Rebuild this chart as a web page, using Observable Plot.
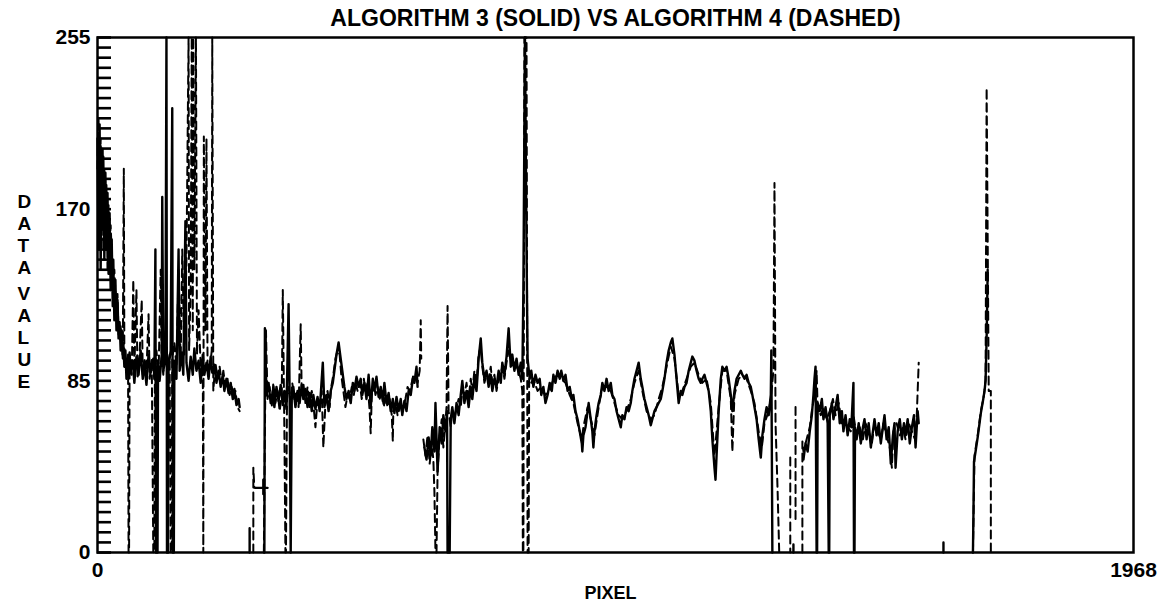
<!DOCTYPE html>
<html>
<head>
<meta charset="utf-8">
<script src="https://cdn.jsdelivr.net/npm/d3@7"></script>
<script src="https://cdn.jsdelivr.net/npm/@observablehq/plot@0.6"></script>
<style>
  html, body { margin: 0; padding: 0; background: #fff; }
  #chart svg { font-family: "Liberation Sans", Arial, sans-serif; }
</style>
</head>
<body>
<div id="chart"></div>
<script>
const title = "ALGORITHM 3 (SOLID) VS ALGORITHM 4 (DASHED)";
const xLabel = "PIXEL";
const yLabelTop = "D\nA\nT\nA";
const yLabelBottom = "V\nA\nL\nU\nE";
const yTickLabels = [0, 85, 170, 255];
const xTickLabels = [0, 1968];
const yMinorTicks = d3.range(0, 256, 5);

// Algorithm 3 (solid): pixel / data value, null = gap
const solidPixel = [
0,2,4,6,8,10,11,13,15,17,19,21,23,25,27,29,30,32,34,36,38,40,42,44,46,48,49,51,53,55,57,59,61,63,67,70,74,78,82,86,89,93,97,101,106,108,110,111,114,115,118,122,123,125,129,131,132,134,135,139,142,143,145,146,150,154,156,160,163,167,169,173,177,181,184,188,192,196,200,203,207,211,215,218,222,226,230,234,238,241,245,249,253,257,260,264,268,270,null,
289,289,null,300,323,null,315,315,null,
317,318,321,325,329,333,336,340,344,348,352,355,359,363,365,367,369,372,376,380,384,388,391,395,399,403,407,410,414,418,422,428,431,435,439,443,447,450,454,458,462,465,469,473,477,481,485,488,492,496,500,503,507,511,515,519,523,526,530,534,538,542,545,549,553,557,561,564,568,572,576,579,583,587,591,595,599,602,606,608,null,
621,625,629,633,636,640,642,646,650,654,657,661,664,665,669,671,674,678,682,686,690,693,697,701,705,709,712,716,720,724,728,731,735,739,743,747,750,754,758,762,766,769,773,777,781,785,788,792,796,800,804,807,809,812,815,817,821,824,828,832,836,840,843,847,851,855,859,863,866,870,874,878,881,885,889,893,897,901,904,908,912,916,920,921,923,927,931,933,937,940,942,944,948,952,956,959,963,967,971,975,978,982,986,990,994,997,1001,1005,1009,1013,1016,1020,1024,1028,1032,1035,1039,1043,1047,1051,1054,1058,1062,1066,1070,1073,1077,1081,1085,1089,1092,1096,1100,1104,1108,1111,1115,1119,1123,1127,1130,1134,1138,1142,1146,1149,1153,1157,1161,1165,1168,1172,1174,1176,1180,1184,1187,1191,1195,1199,1203,1206,1210,1214,1218,1222,1225,1229,1233,1237,1241,1244,1248,1252,1256,1260,1263,1267,1271,1275,1279,1280,1282,null,
1322,1322,null,
1341,1345,1349,1353,1357,1360,1362,1364,1366,1367,1368,1372,1376,1379,1383,1387,1389,1390,1391,1395,1398,1402,1406,1410,1414,1417,1421,1425,1429,1432,1436,1437,1438,1439,1442,1446,1450,1454,1457,1461,1465,1469,1473,1476,1480,1484,1488,1492,1495,1499,1503,1507,1511,1514,1516,1520,1524,1528,1532,1535,1539,1543,1547,1551,1554,1558,1560,null,
1607,1607,null,
1663,1664,1665,1668,1672,1676,1678,1682,1685,1687,1689,1691
];
const solidValue = [
205,150,212,140,200,160,196,145,188,150,178,138,168,130,155,122,145,115,135,110,125,106,114,100,110,98,104,92,100,86,96,88,99,90,95,84,97,88,100,86,94,83,98,89,96,86,150,0,0,94,85,98,176,90,96,255,0,0,92,100,220,0,0,95,86,150,90,99,88,164,94,85,97,88,101,90,95,84,98,88,94,86,97,89,93,84,90,82,88,80,86,79,84,76,81,73,76,72,null,
0,12,null,32,32,null,29,36,null,
0,111,78,84,74,80,72,82,75,83,73,80,71,123,78,0,76,82,72,80,74,83,76,81,72,79,70,78,71,77,70,94,72,78,70,80,84,90,98,104,96,90,82,76,80,74,84,80,87,82,86,78,84,76,88,72,86,80,87,77,82,75,84,74,79,70,76,69,77,70,76,68,75,70,80,78,86,84,92,82,null,
52,46,57,48,62,50,74,40,62,54,68,60,70,0,0,66,72,64,74,68,78,85,74,80,72,82,76,86,80,96,106,94,86,90,82,88,80,86,82,90,84,94,88,97,111,92,98,90,96,88,94,86,130,255,150,96,86,90,82,88,84,86,78,82,74,78,84,80,88,84,90,86,90,85,88,80,82,76,78,70,66,60,54,50,58,62,70,74,66,60,52,60,68,74,78,84,80,86,80,84,78,76,70,66,62,68,66,72,70,74,80,86,90,94,86,82,76,72,68,63,66,70,72,74,76,80,86,94,100,104,106,98,86,74,80,78,82,84,90,94,97,95,90,86,84,86,88,84,80,70,56,42,36,48,70,86,92,90,92,86,78,70,80,86,88,90,88,86,88,84,82,78,72,66,56,47,58,66,72,68,78,100,0,null,
0,4,null,
46,54,50,60,68,78,86,92,0,0,74,70,76,66,72,64,0,0,68,74,66,72,78,64,70,60,68,58,66,62,84,0,0,62,56,64,54,62,66,56,64,52,60,66,58,64,54,62,68,56,62,44,58,64,42,60,66,56,64,58,66,54,62,68,52,70,64,null,
0,5,null,
0,20,45,50,57,65,69,75,80,85,106,140
];

// Algorithm 4 (dashed): pixel / data value, null = gap
const dashedPixel = [
0,2,4,6,8,10,11,13,15,17,19,21,23,25,29,32,36,38,40,44,48,50,51,55,58,59,60,61,65,68,70,74,76,80,84,86,89,93,97,99,103,106,108,109,112,116,120,122,125,129,133,137,139,141,142,146,150,154,158,161,165,169,173,174,177,179,181,182,184,187,189,192,196,200,201,202,205,207,209,213,217,218,220,224,228,232,236,239,243,247,251,255,259,262,266,270,null,
296,296,298,null,
316,318,320,323,327,331,334,338,342,346,350,352,355,357,358,360,363,367,370,374,378,382,386,388,391,395,399,403,407,410,414,418,422,426,429,433,437,441,444,448,452,456,460,463,467,471,475,479,483,487,490,494,498,502,506,509,513,517,519,521,525,528,532,536,540,544,547,551,555,559,561,562,566,570,574,578,581,585,589,593,597,600,604,608,612,614,615,null,
619,623,627,631,635,638,640,642,644,646,650,654,657,661,663,665,667,671,674,678,682,686,690,693,697,701,705,709,712,716,720,724,728,731,735,739,743,747,750,754,758,762,766,769,773,777,781,785,788,792,796,800,804,807,808,809,811,815,817,819,820,824,828,836,843,851,859,866,874,881,889,897,904,912,920,923,931,939,944,952,959,967,975,982,990,997,1005,1013,1020,1028,1035,1043,1051,1058,1066,1073,1081,1089,1096,1104,1111,1119,1127,1134,1142,1149,1157,1165,1172,1180,1187,1195,1203,1206,1210,1218,1225,1233,1241,1248,1256,1262,1267,1275,1279,1284,1286,1288,1292,1295,null,
1316,1316,null,1326,1326,null,
1339,1339,1341,1347,1353,1358,1364,1366,1368,1374,1379,1385,1391,1397,1402,1408,1414,1419,1425,1431,1436,1442,1448,1454,1459,1465,1471,1476,1482,1488,1493,1499,1505,1509,1512,1518,1524,1530,1535,1541,1547,1553,1556,1560,null,
1663,1666,1672,1678,1684,1687,1689,1693,1697,1697
];
const dashedValue = [
190,215,160,205,175,200,150,190,160,182,140,172,145,162,135,140,118,128,108,112,96,190,100,92,98,0,0,95,88,135,90,130,86,98,125,88,96,90,118,86,96,0,0,92,100,88,140,96,88,110,92,98,0,0,96,104,92,140,94,150,98,145,255,100,130,255,110,255,140,255,98,120,92,96,0,206,110,205,94,90,100,255,80,94,86,92,84,90,82,86,78,82,76,80,72,70,null,
0,42,32,null,
0,60,110,76,82,72,84,74,80,70,78,130,60,0,0,76,82,74,84,76,80,72,113,78,84,74,82,72,80,74,62,76,72,80,52,74,80,72,82,88,96,100,98,88,80,72,78,76,82,78,84,80,84,76,86,80,84,70,59,78,84,78,82,76,80,72,78,72,76,68,55,72,74,68,74,70,72,76,82,80,84,88,86,84,90,115,96,null,
56,48,58,44,54,46,30,0,0,40,58,66,52,64,72,122,70,62,70,66,72,76,72,80,78,84,76,86,80,90,84,98,102,92,84,88,86,92,84,88,80,86,88,92,86,94,100,96,92,94,92,90,86,80,0,0,255,255,0,0,86,84,86,80,82,78,80,86,88,86,84,78,74,64,56,62,72,64,58,72,82,82,80,74,68,66,70,76,84,90,80,70,66,68,76,82,92,102,96,78,80,86,92,94,88,84,86,74,48,72,90,90,76,50,78,86,88,86,80,74,60,52,64,70,76,90,183,64,30,0,null,
47,0,null,72,15,null,
0,55,50,56,62,72,80,90,72,68,72,66,70,76,68,74,64,66,62,60,68,58,62,56,64,60,54,64,60,56,64,58,52,42,60,64,58,62,56,64,60,56,66,94,null,
0,48,58,70,78,86,230,80,80,0
];

const toRows = (px, val) => px.map((x, i) => ({
  x: x == null ? NaN : x,
  y: val[i] == null ? NaN : val[i]
}));
const solid = toRows(solidPixel, solidValue);
const dashed = toRows(dashedPixel, dashedValue);

const chart = Plot.plot({
  width: 1167,
  height: 609,
  marginLeft: 97,
  marginRight: 34,
  marginTop: 37,
  marginBottom: 57,
  style: { fontFamily: '"Liberation Sans", Arial, sans-serif', background: "#fff", color: "#000" },
  x: { domain: [0, 1968] },
  y: { domain: [0, 255] },
  marks: [
    Plot.axisY(yMinorTicks, { anchor: "left", tickSize: 14, dx: 14, tickFormat: () => "", strokeWidth: 2.6, label: null }),
    Plot.axisY(yTickLabels, { anchor: "left", tickSize: 0, tickPadding: 7, fontSize: 21, fontWeight: "bold", tickFormat: d => String(d), label: null }),
    Plot.axisX(xTickLabels, { anchor: "bottom", tickSize: 0, tickPadding: 10, fontSize: 21, fontWeight: "bold", tickFormat: d => String(d), label: null }),
    Plot.line(dashed, { x: "x", y: "y", stroke: "#000", strokeWidth: 2, strokeDasharray: "8,5", curve: "linear" }),
    Plot.line(solid, { x: "x", y: "y", stroke: "#000", strokeWidth: 2.4, curve: "linear" }),
    Plot.frame({ stroke: "#000", strokeWidth: 2.5 }),
    Plot.text([title], { frameAnchor: "top", lineAnchor: "middle", dy: -19, fontSize: 23, fontWeight: "bold" }),
    Plot.text([xLabel], { frameAnchor: "bottom", lineAnchor: "middle", dy: 41, dx: -5, fontSize: 18, fontWeight: "bold" }),
    Plot.text([yLabelTop], { frameAnchor: "left", dx: -80, dy: -61, fontSize: 19, fontWeight: "bold", lineHeight: 1.16 }),
    Plot.text([yLabelBottom], { frameAnchor: "left", dx: -80, dy: 42, fontSize: 19, fontWeight: "bold", lineHeight: 1.16 })
  ]
});
document.getElementById("chart").appendChild(chart);
</script>
</body>
</html>
